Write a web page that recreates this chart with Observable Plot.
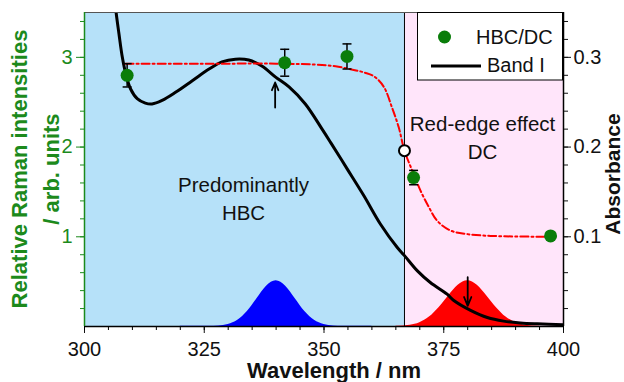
<!DOCTYPE html>
<html><head><meta charset="utf-8">
<script src="https://cdn.jsdelivr.net/npm/d3@7"></script>
<script src="https://cdn.jsdelivr.net/npm/@observablehq/plot@0.6"></script>
<style>
html,body{margin:0;padding:0;background:#fff;}
#chart svg{display:block;}
</style></head><body><div id="chart"></div>
<script>
// ---------- data ----------
const xTicks = [300, 325, 350, 375, 400];
const leftTicks = [1, 2, 3];
const absTicks = [0.1, 0.2, 0.3];
const regionEdges = [300, 366.8, 400];

// HBC/DC Raman ratio points
const hbcWavelength = [308.9, 341.8, 354.8, 368.7, 397.3];
const hbcRatio      = [2.80, 2.94, 3.01, 1.66, 1.01];
const hbcError      = [0.13, 0.15, 0.14, 0.08, 0];

// open marker (inflection)
const markWavelength = [366.8];
const markRatio = [1.96];

// red dash-dot fit
const fitWavelength = [308.6, 320, 330, 340, 348, 352.4, 356.2, 358.5, 360.4, 362.5, 364.2, 365.6, 366.8, 368.4, 370.1, 371.9, 373.6, 376.4, 379.9, 384.8, 397.3];
const fitRatio      = [2.93, 2.93, 2.93, 2.93, 2.92, 2.90, 2.86, 2.83, 2.79, 2.67, 2.44, 2.22, 1.96, 1.74, 1.52, 1.33, 1.18, 1.07, 1.03, 1.01, 1.00];

// Band I absorbance (right axis)
const bandWavelength = [306.2, 306.6, 307.2, 307.9, 308.6, 309.6, 311.0, 312.7, 314.1, 316.2, 319.0, 322.5, 326.0, 328.7, 331.5, 334.3, 337.1, 339.9, 342.7, 346.1, 349.6, 351.4, 354.8, 358.3, 361.8, 365.3, 366.8, 369.5, 372.2, 375.7, 377.1, 380.6, 384.1, 387.5, 391.0, 394.5, 400.0];
const bandAbsorbance = [0.370, 0.350, 0.326, 0.300, 0.282, 0.265, 0.254, 0.249, 0.248, 0.252, 0.261, 0.274, 0.287, 0.295, 0.298, 0.297, 0.290, 0.278, 0.267, 0.248, 0.220, 0.205, 0.176, 0.146, 0.114, 0.088, 0.079, 0.062, 0.049, 0.036, 0.029, 0.018, 0.010, 0.006, 0.004, 0.003, 0.002];

// blue excitation band
const blueWavelength = [320, 326, 328, 330, 332, 334, 336, 338, 340, 342, 344, 346, 348, 350, 352, 354, 360];
const blueIntensity  = [0.003, 0.004, 0.006, 0.022, 0.069, 0.166, 0.31, 0.45, 0.51, 0.45, 0.31, 0.166, 0.069, 0.022, 0.006, 0.004, 0.003];

// red excitation band
const redWavelength = [365, 368, 370, 372, 374, 376, 378, 380, 382, 384, 386, 388, 390, 392, 395];
const redIntensity  = [0.003, 0.015, 0.043, 0.105, 0.21, 0.34, 0.46, 0.51, 0.46, 0.34, 0.21, 0.105, 0.043, 0.015, 0.003];

// arrows
const arrowWavelength = [339.8, 380.0];
const arrowTail = [2.44, 0.55];
const arrowTip  = [2.72, 0.23];

// annotations
const noteText = ["Predominantly\nHBC", "Red-edge effect\nDC"];
const noteWavelength = [333.2, 383.1];
const noteRatio = [1.445, 2.12];

// ---------- tables ----------
const ABS_TO_LEFT = 10; // right axis 0..0.35 matches left axis 0..3.5
const hbc = hbcWavelength.map((x, i) => ({x, y: hbcRatio[i], e: hbcError[i]}));
const hbcErr = hbc.filter(d => d.e > 0);
const marker = markWavelength.map((x, i) => ({x, y: markRatio[i]}));
const fit = fitWavelength.map((x, i) => ({x, y: fitRatio[i]}));
const band = bandWavelength.map((x, i) => ({x, y: bandAbsorbance[i] * ABS_TO_LEFT}));
const blue = blueWavelength.map((x, i) => ({x, y: blueIntensity[i]}));
const red = redWavelength.map((x, i) => ({x, y: redIntensity[i]}));
const arrows = arrowWavelength.map((x, i) => ({x, y1: arrowTail[i], y2: arrowTip[i]}));
const notes = noteText.map((t, i) => ({t, x: noteWavelength[i], y: noteRatio[i]}));
const regions = [
  {start: regionEdges[0], end: regionEdges[1]},
  {start: regionEdges[1], end: regionEdges[2]}
];

const GREEN = "#1c8a1c";
const DOT = "#0a7d0a";
const capSymbol = {draw(ctx) { ctx.moveTo(-4.5, 0); ctx.lineTo(4.5, 0); }};

const plot = Plot.plot({
  width: 624, height: 382,
  marginLeft: 84, marginRight: 61, marginTop: 12, marginBottom: 56,
  x: {domain: [300, 400], label: null},
  y: {domain: [0, 3.5], label: null},
  style: {background: "white", fontFamily: "'Liberation Sans', Arial, sans-serif", overflow: "visible"},
  marks: [
    Plot.rect([regions[0]], {x1: "start", x2: "end", fill: "#b6e1f9"}),
    Plot.rect([regions[1]], {x1: "start", x2: "end", fill: "#ffe5fa"}),
    Plot.areaY(blue, {x: "x", y: "y", fill: "#0000ff", curve: "monotone-x"}),
    Plot.areaY(red, {x: "x", y: "y", fill: "#ff0000", curve: "monotone-x"}),
    Plot.ruleX([regionEdges[1]], {stroke: "black", strokeWidth: 1}),
    Plot.line(band, {x: "x", y: "y", stroke: "black", strokeWidth: 3, curve: "catmull-rom", clip: true}),
    Plot.line(fit, {x: "x", y: "y", stroke: "#ff0000", strokeWidth: 2, strokeDasharray: "8,3,2,3", curve: "catmull-rom"}),
    Plot.ruleX(hbcErr, {x: "x", y1: d => d.y - d.e, y2: d => d.y + d.e, stroke: "black", strokeWidth: 1.5}),
    Plot.dot(hbcErr, {x: "x", y: d => d.y - d.e, symbol: capSymbol, stroke: "black", strokeWidth: 1.5, fill: "none"}),
    Plot.dot(hbcErr, {x: "x", y: d => d.y + d.e, symbol: capSymbol, stroke: "black", strokeWidth: 1.5, fill: "none"}),
    Plot.dot(hbc, {x: "x", y: "y", r: 6.5, fill: DOT, stroke: "none"}),
    Plot.dot(marker, {x: "x", y: "y", r: 5.5, fill: "white", stroke: "black", strokeWidth: 2}),
    Plot.arrow(arrows, {x1: "x", x2: "x", y1: "y1", y2: "y2", stroke: "black", strokeWidth: 1.8, headLength: 10, headAngle: 45}),
    Plot.text(notes, {x: "x", y: "y", text: "t", fontSize: 20.5, lineHeight: 1.36, fill: "#111"}),
    // frame
    Plot.ruleY([3.5], {stroke: "#555", strokeWidth: 1}),
    Plot.ruleY([0], {stroke: "black", strokeWidth: 1.5}),
    Plot.ruleX([400], {stroke: "black", strokeWidth: 1.5}),
    Plot.ruleX([300], {stroke: GREEN, strokeWidth: 1.5}),
    // axes
    Plot.axisX(xTicks, {tickSize: 7, tickPadding: 8, fontSize: 20, color: "#111", tickFormat: d => String(d), label: null}),
    Plot.axisX(d3.range(300, 401, 5), {tickSize: 4, tickFormat: () => "", label: null}),
    Plot.axisY(leftTicks, {anchor: "left", tickSize: 8, tickPadding: 4, fontSize: 20, color: GREEN, tickFormat: d => String(d), label: null}),
    Plot.axisY(d3.range(1, 18).map(i => i * 0.2), {anchor: "left", tickSize: 4, tickFormat: () => "", color: GREEN, label: null}),
    Plot.axisY(absTicks.map(t => t * ABS_TO_LEFT), {anchor: "right", tickSize: 7, tickPadding: 3, fontSize: 20, color: "#111",
      tickFormat: d => (d / ABS_TO_LEFT).toFixed(1), label: null}),
    Plot.axisY(d3.range(1, 18).map(i => i * 0.2), {anchor: "right", tickSize: 4, tickFormat: () => "", color: "#111", label: null})
  ]
});

const svg = d3.select(plot);
// axis titles
svg.append("text").attr("x", 334).attr("y", 377.5).attr("text-anchor", "middle")
  .attr("font-size", 22).attr("font-weight", "bold").attr("fill", "#111").text("Wavelength / nm");
svg.append("text").attr("transform", "translate(26.7,169) rotate(-90)").attr("text-anchor", "middle")
  .attr("font-size", 22).attr("font-weight", "bold").attr("fill", GREEN).text("Relative Raman intensities");
svg.append("text").attr("transform", "translate(58.5,169) rotate(-90)").attr("text-anchor", "middle")
  .attr("font-size", 22).attr("font-weight", "bold").attr("fill", GREEN).text("/ arb. units");
svg.append("text").attr("transform", "translate(620,174) rotate(-90)").attr("text-anchor", "middle")
  .attr("font-size", 21).attr("font-weight", "bold").attr("fill", "#111").text("Absorbance");
// legend
const lg = svg.append("g").attr("text-anchor", "start");
lg.append("rect").attr("x", 417.5).attr("y", 12.5).attr("width", 145).attr("height", 67.5)
  .attr("fill", "white").attr("stroke", "black").attr("stroke-width", 1);
lg.append("circle").attr("cx", 444.5).attr("cy", 37).attr("r", 6.5).attr("fill", DOT);
lg.append("text").attr("x", 476).attr("y", 43.5).attr("font-size", 20).attr("fill", "#111").text("HBC/DC");
lg.append("line").attr("x1", 431).attr("x2", 481).attr("y1", 66).attr("y2", 66).attr("stroke", "black").attr("stroke-width", 3);
lg.append("text").attr("x", 487).attr("y", 72).attr("font-size", 20).attr("fill", "#111").text("Band I");

document.getElementById("chart").appendChild(plot);
</script>
</body></html>
